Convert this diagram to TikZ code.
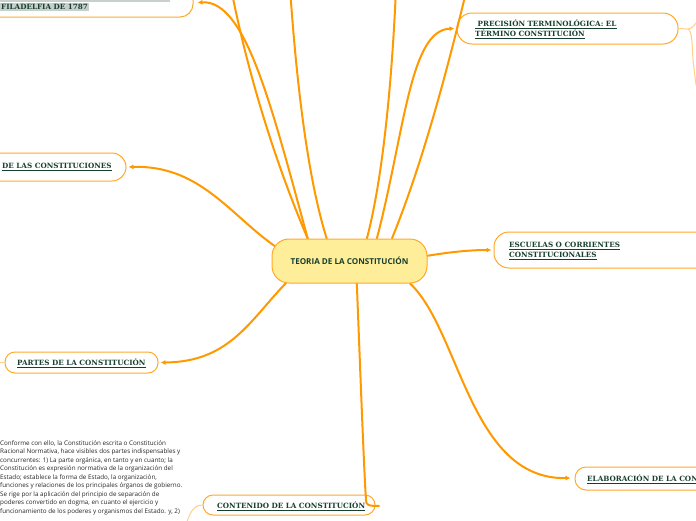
\documentclass[tikz,border=0pt]{standalone}
\usepackage{fontspec}
\setmainfont{DejaVu Serif}
\newfontfamily\osans{Open Sans}
\usetikzlibrary{arrows.meta,calc}
\definecolor{conn}{HTML}{FF9900}
\definecolor{bord}{HTML}{FFA928}
\definecolor{pale}{HTML}{FFD08A}
\definecolor{ink}{HTML}{163F2E}
\definecolor{cfill}{HTML}{FFEE99}
\definecolor{hl}{HTML}{C7D0CC}
\begin{document}
\begin{tikzpicture}[x=1pt,y=-1pt,
  box/.style={draw=bord, line width=1pt, fill=white, inner sep=0pt},
  lbl/.style={font=\bfseries\fontsize{7.2}{10}\selectfont, text=ink, anchor=west, inner sep=0pt, align=left},
  link/.style={draw=conn, line width=2pt},
  arr/.style={link, -{Latex[length=5pt,width=5pt]}},
  stub/.style={draw=pale, line width=1pt},
]
\useasboundingbox (0,0) rectangle (696,520);
\clip (0,0) rectangle (696,520);
\fill[white] (0,0) rectangle (696,520);

% boxes
\node[box, rounded corners=13pt, minimum width=293pt, minimum height=57pt] (tl) at (46.5,-11.5) {};
\fill[hl] (0,-6) rectangle (170,1.5);
\node[lbl, fill=hl, inner sep=1pt] (tlt) at (0,7) {FILADELFIA DE 1787};

\node[box, rounded corners=15pt, minimum width=221pt, minimum height=31pt] (pre) at (567.5,28.5) {};
\node[lbl] (pret) at (475,29) {\underline{\ PRECISIÓN TERMINOLÓGICA: EL}\\\underline{TÉRMINO CONSTITUCIÓN}};

\node[box, rounded corners=14pt, minimum width=176pt, minimum height=28pt] (dl) at (38,167) {};
\node[lbl] (dlt) at (2,167) {\underline{DE LAS CONSTITUCIONES}};

\node[box, rounded corners=15pt, minimum width=266pt, minimum height=36pt] (es) at (627,250) {};
\node[lbl] (est) at (509,251) {\underline{ESCUELAS O CORRIENTES}\\\underline{CONSTITUCIONALES}};

\node[box, rounded corners=10pt, minimum width=153pt, minimum height=21pt] (pa) at (81.5,362.5) {};
\node[lbl] (pat) at (17,363) {\underline{PARTES DE LA CONSTITUCIÓN}};

\node[box, rounded corners=10pt, minimum width=172pt, minimum height=20pt] (co) at (289,505) {};
\node[lbl] (cot) at (217,506) {\underline{CONTENIDO DE LA CONSTITUCIÓN}};

\node[box, rounded corners=11pt, minimum width=195pt, minimum height=23pt] (el) at (672.5,478.5) {};
\node[lbl] (elt) at (587,479) {\underline{ELABORACIÓN DE LA CONSTITUCIÓN}};

% paragraph
\node[font=\osans\fontsize{6.3}{8.5}\selectfont, text=black!85, align=left, anchor=north west, inner sep=0pt] (par) at (0,440) {Conforme con ello, la Constitución escrita o Constitución\\
Racional Normativa, hace visibles dos partes indispensables y\\
concurrentes: 1) La parte orgánica, en tanto y en cuanto; la\\
Constitución es expresión normativa de la organización del\\
Estado; establece la forma de Estado, la organización,\\
funciones y relaciones de los principales órganos de gobierno.\\
Se rige por la aplicación del principio de separación de\\
poderes convertido en dogma, en cuanto el ejercicio y\\
funcionamiento de los poderes y organismos del Estado. y, 2)};

% pale stubs
\coordinate (pf) at (688,29);
\coordinate (pu) at (698,21);
\coordinate (pd) at (696,85);
\coordinate (pal) at (-3,362.5);
\coordinate (col) at (186,524);
\draw[stub] (pre.east) -- (pf) .. controls (692,29) and (694,25) .. (pu);
\draw[stub] (pf) .. controls (692,31) and (692,42) .. (693,60) -- (pd);
\draw[stub] (pa.west) -- (pal);
\draw[stub] (co.west) .. controls (197,505) and (193,508) .. (190,514) -- (col);

% central node placeholder for anchors
\node[minimum width=155pt, minimum height=44pt, inner sep=0pt] (c) at (349.5,261) {};

% free ends above the canvas
\coordinate (u1) at (231,-12);
\coordinate (u2) at (290,-12);
\coordinate (u3) at (396,-12);
\coordinate (u4) at (467,-12);

% connectors
\draw[arr] ($(c.north west)+(36,0)$) .. controls (270,100) and (245,0) .. ($(tl.south east)+(4,-15)$);
\draw[link] ($(c.north west)+(36,0)$) .. controls (270,150) and (245,60) .. (u1);
\draw[link] ($(c.north west)+(55,0)$) .. controls (305,170) and (295,60) .. (u2);
\draw[link] ($(c.north west)+(95,0)$) .. controls (385,170) and (393,60) .. (u3);
\draw[arr] ($(c.north west)+(105,0)$) .. controls (405,130) and (410,30) .. ($(pre.west)+(-2,0)$);
\draw[link] ($(c.north west)+(120,0)$) .. controls (420,170) and (445,80) .. (u4);
\draw[arr] ($(c.north west)+(4,8)$) .. controls (230,215) and (200,165) .. ($(dl.east)+(2,0)$);
\draw[arr] ($(c.south west)+(15,-1)$) .. controls (250,320) and (230,362) .. ($(pa.east)+(2,0)$);
\draw[link] ($(c.south west)+(85,0)$) .. controls (361,390) and (364,470) .. (366,500) .. controls (366,505) and (368,506) .. ($(co.east)+(4,1)$);
\draw[arr] ($(c.south west)+(138,0)$) .. controls (460,330) and (470,480) .. ($(el.west)+(-4,-0.5)$);
\draw[arr] ($(c.east)+(-1,-5)$) .. controls (450,252) and (470,250) .. ($(es.west)+(-2,0)$);

% central node
\node[box, fill=cfill, rounded corners=17pt, minimum width=155pt, minimum height=44pt, font=\osans\bfseries\fontsize{8.1}{9}\selectfont, text=ink] (ct) at (c) {TEORIA DE LA CONSTITUCIÓN};
\end{tikzpicture}
\end{document}
